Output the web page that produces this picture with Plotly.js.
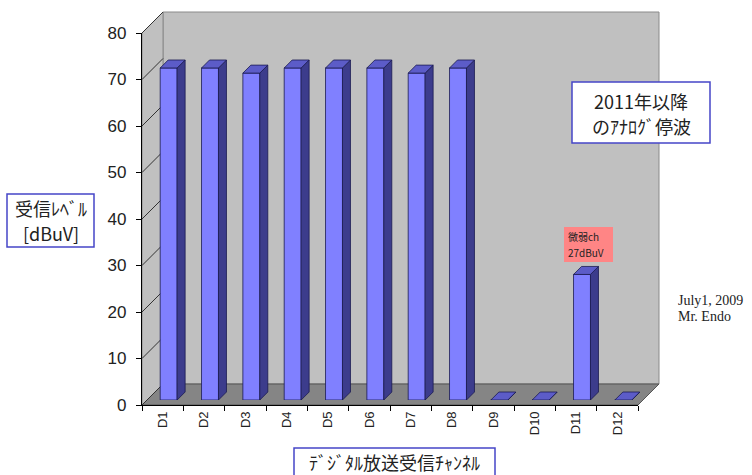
<!DOCTYPE html>
<html>
<head>
<meta charset="utf-8">
<script src="https://cdn.plot.ly/plotly-3.0.1.min.js"></script>
<style>html,body{margin:0;padding:0;background:#fff}#chart{width:752px;height:475px}</style>
</head>
<body>
<div id="chart"></div>
<script>
// ---- data ----
const categories = ["D1","D2","D3","D4","D5","D6","D7","D8","D9","D10","D11","D12"];
const levels = [71.4, 71.4, 70.3, 71.4, 71.4, 71.4, 70.3, 71.4, 0, 0, 27, 0];
const yTicks = [0, 10, 20, 30, 40, 50, 60, 70, 80];
const weakLines = ["微弱ch", "27dBuV"];
const noteLines = ["2011年以降", "のｱﾅﾛｸﾞ停波"];
const yTitleLines = ["受信ﾚﾍﾞﾙ", "[dBuV]"];
const xTitle = "ﾃﾞｼﾞﾀﾙ放送受信ﾁｬﾝﾈﾙ";
const creditLines = ["July1, 2009", "Mr. Endo"];

// ---- geometry (pixels) ----
const W = 752, H = 475;
const FL = 142, FR = 638, FB = 405, FT = 33;   // front frame
const DX = 21, DY = 21;                          // wall depth offset
const BX = 6, BY = 5;                            // bar front face offset
const px = x => x / W, py = y => 1 - y / H;
const yF = v => FB - v * (FB - FT) / 80;
const yB = v => yF(v) - DY;

const catW = (FR - FL) / categories.length;
const pxPerUnit = (FB - FT) / 80;
const barW = 0.41, depthPx = 8;
const ddx = depthPx / catW, ddy = depthPx / pxPerUnit;

const xi = categories.map((_, i) => i);

// side and top faces of the pseudo-3D bars
const sideX = [], sideY = [], topX = [], topY = [];
levels.forEach((v, i) => {
  const r = i + barW / 2, l = i - barW / 2;
  sideX.push(r, r + ddx, r + ddx, r, r, null);
  sideY.push(0, ddy, v + ddy, v, 0, null);
  topX.push(l, r, r + ddx, l + ddx, l, null);
  topY.push(v, v, v + ddy, v + ddy, v, null);
});

const traces = [
  {type: 'scatter', x: categories, y: levels, xaxis: 'x', yaxis: 'y', mode: 'markers',
   marker: {opacity: 0}, hoverinfo: 'skip', showlegend: false},
  {type: 'bar', x: xi, y: levels, width: barW, xaxis: 'x3', yaxis: 'y3',
   marker: {color: '#8080ff', line: {color: '#1a1a50', width: 0.8}}, showlegend: false, hoverinfo: 'skip'},
  {type: 'scatter', x: sideX, y: sideY, xaxis: 'x3', yaxis: 'y3', mode: 'lines', fill: 'toself',
   fillcolor: '#3c3c8c', line: {color: '#1a1a50', width: 0.8}, showlegend: false, hoverinfo: 'skip'},
  {type: 'scatter', x: topX, y: topY, xaxis: 'x3', yaxis: 'y3', mode: 'lines', fill: 'toself',
   fillcolor: '#5c5cc8', line: {color: '#1a1a50', width: 0.8}, showlegend: false, hoverinfo: 'skip'}
];

// walls / floor / diagonal gridlines / text boxes
const shapes = [];
const path = pts => 'M ' + pts.map(p => px(p[0]) + ',' + py(p[1])).join(' L ') + ' Z';
shapes.push({type: 'path', xref: 'paper', yref: 'paper', layer: 'below',
  path: path([[FL + DX, yB(80)], [FR + DX, yB(80)], [FR + DX, yB(0)], [FL + DX, yB(0)]]),
  fillcolor: '#c0c0c0', line: {color: '#8a8a8a', width: 1}});
shapes.push({type: 'path', xref: 'paper', yref: 'paper', layer: 'below',
  path: path([[FL, FT], [FL + DX, yB(80)], [FL + DX, yB(0)], [FL, FB]]),
  fillcolor: '#c0c0c0', line: {color: '#8a8a8a', width: 1}});
shapes.push({type: 'path', xref: 'paper', yref: 'paper', layer: 'below',
  path: path([[FL, FB], [FL + DX, yB(0)], [FR + DX, yB(0)], [FR, FB]]),
  fillcolor: '#858585', line: {color: '#555', width: 1}});
yTicks.forEach(v => {
  shapes.push({type: 'line', xref: 'paper', yref: 'paper', layer: 'below',
    x0: px(FL), y0: py(yF(v)), x1: px(FL + DX), y1: py(yB(v)),
    line: {color: '#333', width: 1}});
});
const box = (x0, y0, x1, y1) => ({type: 'rect', xref: 'paper', yref: 'paper', layer: 'above',
  x0: px(x0), y0: py(y1), x1: px(x1), y1: py(y0), fillcolor: 'rgba(0,0,0,0)',
  line: {color: '#4646c8', width: 1.5}});
const boxFill = (x0, y0, x1, y1, c) => ({type: 'rect', xref: 'paper', yref: 'paper', layer: 'above',
  x0: px(x0), y0: py(y1), x1: px(x1), y1: py(y0), fillcolor: c || '#ffffff', line: {width: 0}});
shapes.push(box(7, 194, 94, 247));
shapes.push(boxFill(572, 82, 710, 143), box(572, 82, 710, 143));
shapes.push(box(294, 448, 495, 476));
shapes.push(boxFill(564, 227, 613, 262, '#ff8585'));

const jp = {family: 'Noto Sans CJK JP', size: 18, color: '#222'};
const small = {family: 'Noto Sans CJK JP', size: 10, color: '#222'};
const serif = {family: 'Liberation Serif, Times New Roman, serif', size: 14, color: '#222'};
const txt = (t, x, y, font, xanchor) => ({text: t, xref: 'paper', yref: 'paper', x: px(x), y: py(y),
  xanchor: xanchor || 'center', yanchor: 'middle', showarrow: false, font: font});

const annotations = [
  txt(yTitleLines[0], 50.5, 208, jp),
  txt(yTitleLines[1], 50.5, 233, jp),
  txt(xTitle, 394.5, 462, jp),
  txt(noteLines[0], 641, 101, jp),
  txt(noteLines[1], 641, 126, jp),
  txt(creditLines[0], 676, 300, serif, 'left'),
  txt(creditLines[1], 676, 316, serif, 'left'),
  txt(weakLines[0], 566, 237, small, 'left'),
  txt(weakLines[1], 566, 252, small, 'left')
];

const layout = {
  width: W, height: H,
  margin: {l: 0, r: 0, t: 0, b: 0},
  paper_bgcolor: '#ffffff', plot_bgcolor: 'rgba(0,0,0,0)',
  showlegend: false,
  font: {family: 'Liberation Sans, Arial, sans-serif', color: '#222'},
  xaxis: {domain: [px(FL), px(FR)], type: 'category', categoryarray: categories,
    range: [-0.5, categories.length - 0.5], showgrid: false, zeroline: false,
    showline: true, linecolor: '#000', linewidth: 1.2,
    ticks: 'outside', tickson: 'boundaries', ticklen: 5, tickcolor: '#000',
    tickangle: -90, tickfont: {size: 13, color: '#222'}, fixedrange: true},
  yaxis: {domain: [py(FB), py(FT)], range: [0, 80], tickvals: yTicks,
    showgrid: false, zeroline: false, showline: true, linecolor: '#000', linewidth: 1.2,
    ticks: 'outside', ticklen: 5, tickcolor: '#000', ticklabelstandoff: 6,
    tickfont: {size: 17, color: '#222'}, fixedrange: true},
  xaxis2: {domain: [px(FL + DX), px(FR + DX)], range: [0, 1], visible: false, anchor: 'y2', fixedrange: true},
  yaxis2: {domain: [py(yB(0)), py(yB(80))], range: [0, 80], tickvals: yTicks, anchor: 'x2',
    showgrid: true, gridcolor: '#333', gridwidth: 1, zeroline: false, showticklabels: false,
    ticks: '', showline: false, fixedrange: true},
  xaxis3: {domain: [px(FL + BX), px(FR + BX)], range: [-0.5, categories.length - 0.5], visible: false, anchor: 'y3', fixedrange: true},
  yaxis3: {domain: [py(FB - BY), py(FT - BY)], range: [0, 80], visible: false, anchor: 'x3', fixedrange: true},
  shapes: shapes,
  annotations: annotations
};

Plotly.newPlot('chart', traces, layout, {displayModeBar: false, staticPlot: true});
</script>
</body>
</html>
